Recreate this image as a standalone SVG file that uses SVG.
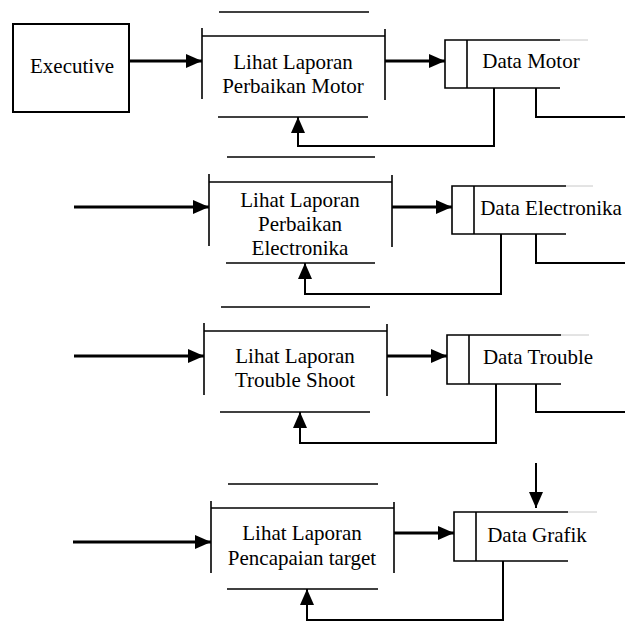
<svg xmlns="http://www.w3.org/2000/svg" width="625" height="622" viewBox="0 0 625 622">
<style>
  text { font-family: 'Liberation Serif', 'Tinos', 'Times New Roman', 'DejaVu Serif', serif; font-size: 21px; fill: #000; text-anchor: middle; }
  .ln { stroke: #000; stroke-width: 1.6; fill: none; }
  .box { stroke: #000; stroke-width: 2; fill: #fff; }
  .flow { stroke: #000; stroke-width: 3; fill: none; marker-end: url(#ah); }
  .fb { stroke: #000; stroke-width: 2; fill: none; marker-end: url(#ah); }
  .out { stroke: #000; stroke-width: 2; fill: none; }
  .grey { stroke: #c8c8c8; stroke-width: 1; }
</style>
<defs>
  <marker id="ah" viewBox="0 0 16 14" refX="16" refY="7" markerWidth="16" markerHeight="14" markerUnits="userSpaceOnUse" orient="auto">
    <path d="M0,0 L16,7 L0,14 z" fill="#000"/>
  </marker>
</defs>
<rect width="625" height="622" fill="#fff"/>

<g id="executive">
  <rect class="box" x="13" y="24" width="116" height="88"/>
  <text x="72" y="73" font-family="Liberation Serif, serif">Executive</text>
</g>

<g id="proc1">
  <line class="ln" x1="219" y1="12" x2="369" y2="12"/>
  <line class="ln" x1="202" y1="28" x2="202" y2="99"/>
  <line class="ln" x1="202" y1="36" x2="385" y2="36"/>
  <line class="ln" x1="385" y1="29" x2="385" y2="100"/>
  <line class="ln" x1="218" y1="117" x2="368" y2="117"/>
  <text x="293" y="69">Lihat Laporan</text>
  <text x="293" y="93">Perbaikan Motor</text>
</g>
<g id="store1">
  <path class="ln" d="M560,40 H445 V88 H560"/>
  <line class="ln" x1="467" y1="40" x2="467" y2="88"/>
  <line class="grey" x1="560" y1="40" x2="588" y2="40"/>
  <text x="531" y="68">Data Motor</text>
</g>

<g id="proc2">
  <line class="ln" x1="227" y1="157" x2="375" y2="157"/>
  <line class="ln" x1="209" y1="174" x2="209" y2="246"/>
  <line class="ln" x1="209" y1="182" x2="392" y2="182"/>
  <line class="ln" x1="392" y1="175" x2="392" y2="247"/>
  <line class="ln" x1="226" y1="263" x2="375" y2="263"/>
  <text x="300" y="207">Lihat Laporan</text>
  <text x="300" y="231">Perbaikan</text>
  <text x="300" y="255">Electronika</text>
</g>
<g id="store2">
  <path class="ln" d="M566,186 H452 V234 H566"/>
  <line class="ln" x1="474" y1="186" x2="474" y2="234"/>
  <line class="grey" x1="566" y1="186" x2="593" y2="186"/>
  <text x="551" y="215">Data Electronika</text>
</g>

<g id="proc3">
  <line class="ln" x1="221" y1="307" x2="370" y2="307"/>
  <line class="ln" x1="204" y1="323" x2="204" y2="395"/>
  <line class="ln" x1="204" y1="331" x2="387" y2="331"/>
  <line class="ln" x1="387" y1="324" x2="387" y2="396"/>
  <line class="ln" x1="220" y1="412" x2="370" y2="412"/>
  <text x="295" y="363">Lihat Laporan</text>
  <text x="295" y="387">Trouble Shoot</text>
</g>
<g id="store3">
  <path class="ln" d="M561,335 H447 V384 H561"/>
  <line class="ln" x1="469" y1="335" x2="469" y2="384"/>
  <line class="grey" x1="561" y1="335" x2="589" y2="335"/>
  <text x="538" y="364">Data Trouble</text>
</g>

<g id="proc4">
  <line class="ln" x1="228" y1="484" x2="378" y2="484"/>
  <line class="ln" x1="211" y1="501" x2="211" y2="573"/>
  <line class="ln" x1="211" y1="508" x2="394" y2="508"/>
  <line class="ln" x1="394" y1="502" x2="394" y2="573"/>
  <line class="ln" x1="227" y1="589" x2="378" y2="589"/>
  <text x="302" y="540">Lihat Laporan</text>
  <text x="302" y="565">Pencapaian target</text>
</g>
<g id="store4">
  <path class="ln" d="M568,512 H454 V561 H568"/>
  <line class="ln" x1="476" y1="512" x2="476" y2="561"/>
  <line class="grey" x1="568" y1="512" x2="597" y2="512"/>
  <text x="537" y="542">Data Grafik</text>
</g>

<g id="connectors">
  <line class="flow" x1="129" y1="61" x2="202" y2="61"/>
  <line class="flow" x1="385" y1="61" x2="445" y2="61"/>
  <polyline class="fb" points="494,88 494,146 298,146 298,117"/>
  <polyline class="out" points="536,88 536,117 625,117"/>

  <line class="flow" x1="74" y1="207" x2="209" y2="207"/>
  <line class="flow" x1="392" y1="207" x2="452" y2="207"/>
  <polyline class="fb" points="501,234 501,294 305,294 305,263"/>
  <polyline class="out" points="536,234 536,263 625,263"/>

  <line class="flow" x1="74" y1="356" x2="204" y2="356"/>
  <line class="flow" x1="387" y1="356" x2="447" y2="356"/>
  <polyline class="fb" points="496,384 496,443 300,443 300,412"/>
  <polyline class="out" points="536,384 536,412 625,412"/>

  <line class="flow" x1="73" y1="542" x2="211" y2="542"/>
  <line class="flow" x1="394" y1="533" x2="454" y2="533"/>
  <line class="fb" x1="536" y1="463" x2="536" y2="508"/>
  <polyline class="fb" points="503,561 503,620 307,620 307,589"/>
</g>
</svg>
